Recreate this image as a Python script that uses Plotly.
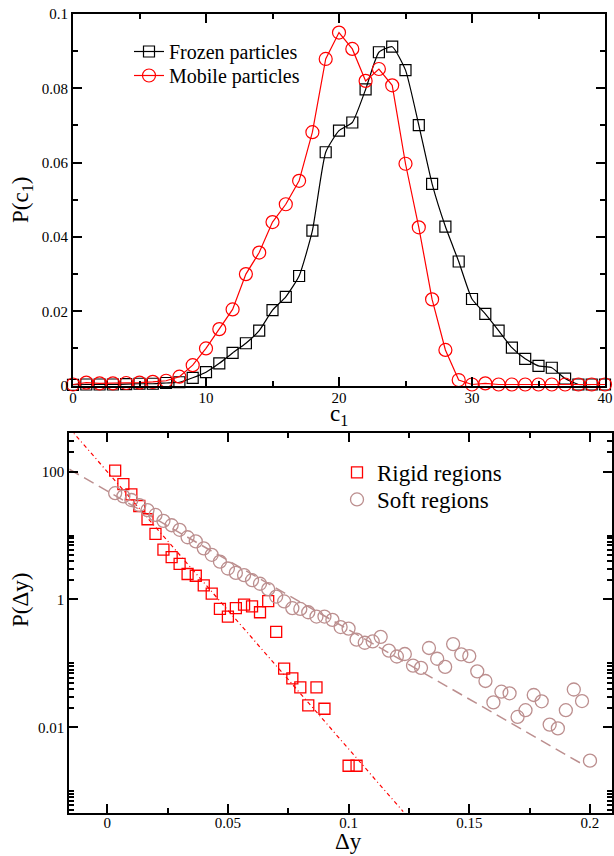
import plotly.graph_objects as go

# ---------------- top panel data ----------------
c1 = list(range(41))
frozen = [0.0002, 0.0003, 0.0003, 0.0003, 0.0004, 0.0005, 0.0005, 0.0007, 0.0009, 0.0021,
          0.0036, 0.0060, 0.0088, 0.0114, 0.0148, 0.0203, 0.0239, 0.0295, 0.0417, 0.0628,
          0.0686, 0.0708, 0.0797, 0.0897, 0.0912, 0.0849, 0.0701, 0.0543, 0.0428, 0.0334,
          0.0233, 0.0193, 0.0148, 0.0102, 0.0072, 0.0053, 0.0048, 0.0019, 0.0003, 0.0003,
          0.0003]
mobile = [0.0003, 0.0008, 0.0006, 0.0006, 0.0007, 0.0008, 0.0010, 0.0013, 0.0024, 0.0055,
          0.0100, 0.0152, 0.0205, 0.0300, 0.0358, 0.0440, 0.0488, 0.0551, 0.0682, 0.0879,
          0.0950, 0.0906, 0.0820, 0.0852, 0.0808, 0.0597, 0.0426, 0.0232, 0.0096, 0.0015,
          0.0003, 0.0006, 0.0003, 0.0003, 0.0003, 0.0003, 0.0003, 0.0003, 0.0003, 0.0003,
          0.0003]

# ---------------- bottom panel data ----------------
dy_rigid = [0.0033, 0.0067, 0.0100, 0.0133, 0.0167, 0.0200, 0.0233, 0.0267, 0.0300, 0.0333,
            0.0367, 0.0400, 0.0433, 0.0467, 0.0500, 0.0533, 0.0567, 0.0600, 0.0633, 0.0667,
            0.0700, 0.0733, 0.0767, 0.0800, 0.0833, 0.0867, 0.0900, 0.1000, 0.1033]
p_rigid = [104, 64, 44, 29, 18, 10.6, 6.0, 4.6, 3.6, 2.5,
           2.35, 1.66, 1.23, 0.71, 0.54, 0.73, 0.83, 0.78, 0.63, 0.94,
           0.31, 0.083, 0.058, 0.042, 0.022, 0.042, 0.0195, 0.0025, 0.0025]

dy_soft = [0.0033, 0.0067, 0.0100, 0.0133, 0.0167, 0.0200, 0.0233, 0.0267, 0.0300, 0.0333,
           0.0367, 0.0400, 0.0433, 0.0467, 0.0500, 0.0533, 0.0567, 0.0600, 0.0633, 0.0667,
           0.0700, 0.0733, 0.0767, 0.0800, 0.0833, 0.0867, 0.0900, 0.0933, 0.0967, 0.1000,
           0.1033, 0.1067, 0.1100, 0.1133, 0.1167, 0.1200, 0.1233, 0.1267, 0.1300, 0.1333,
           0.1367, 0.1400, 0.1433, 0.1467, 0.1500, 0.1533, 0.1567, 0.1600, 0.1633, 0.1667,
           0.1700, 0.1733, 0.1767, 0.1800, 0.1833, 0.1867, 0.1900, 0.1933, 0.1967, 0.2000]
p_soft = [46, 41, 36, 30, 25, 21, 17, 14.5, 12.3, 9.4,
          8.1, 6.3, 5.0, 3.9, 3.05, 2.6, 2.4, 2.0, 1.76, 1.45,
          1.11, 0.93, 0.73, 0.71, 0.63, 0.54, 0.54, 0.48, 0.37, 0.35,
          0.235, 0.21, 0.22, 0.26, 0.158, 0.128, 0.14, 0.092, 0.085, 0.174,
          0.118, 0.088, 0.20, 0.138, 0.13, 0.075, 0.053, 0.0245, 0.036, 0.034,
          0.0145, 0.0185, 0.032, 0.0255, 0.011, 0.0096, 0.0185, 0.039, 0.0257, 0.003]

# fitted exponential lines (end points)
rigid_fit_x = [-0.0157, 0.1226]
rigid_fit_y = [481, 0.00048]
soft_fit_x = [-0.0157, 0.1972]
soft_fit_y = [109, 0.0026]

top_xticks = [0, 10, 20, 30, 40]
top_yticks = [0, 0.02, 0.04, 0.06, 0.08, 0.1]
top_yticklabels = ["0", "0.02", "0.04", "0.06", "0.08", "0.1"]
bot_xticks = [0, 0.05, 0.1, 0.15, 0.2]
bot_xticklabels = ["0", "0.05", "0.1", "0.15", "0.2"]
bot_yticks = [0.01, 1, 100]
bot_yticklabels = ["0.01", "1", "100"]
bot_yminor = [k * 10.0 ** m for m in (-4, -2, 0, 2) for k in range(2, 11)]

SERIF = "Liberation Serif, Times New Roman, Times, DejaVu Serif, serif"
RED = "#ff0000"
BROWN = "#bc8f8f"

fig = go.Figure()

fig.add_trace(go.Scatter(
    x=c1, y=frozen, mode="lines+markers", name="Frozen particles",
    line=dict(color="black", width=1.2, shape="spline", smoothing=0.5),
    marker=dict(symbol="square-open", size=11, color="black", line=dict(width=1.2)),
    cliponaxis=False, xaxis="x", yaxis="y", legend="legend"))
fig.add_trace(go.Scatter(
    x=c1, y=mobile, mode="lines+markers", name="Mobile particles",
    line=dict(color=RED, width=1.2),
    marker=dict(symbol="circle-open", size=13, color=RED, line=dict(width=1.2)),
    cliponaxis=False, xaxis="x", yaxis="y", legend="legend2"))

fig.add_trace(go.Scatter(
    x=rigid_fit_x, y=rigid_fit_y, mode="lines", showlegend=False,
    line=dict(color=RED, width=1.2, dash="4px,3px,1px,3px"),
    xaxis="x2", yaxis="y2"))
fig.add_trace(go.Scatter(
    x=soft_fit_x, y=soft_fit_y, mode="lines", showlegend=False,
    line=dict(color=BROWN, width=1.5, dash="11px,6px"),
    xaxis="x2", yaxis="y2"))
fig.add_trace(go.Scatter(
    x=dy_rigid, y=p_rigid, mode="markers", name="Rigid regions",
    marker=dict(symbol="square-open", size=11, color=RED, line=dict(width=1.3)),
    xaxis="x2", yaxis="y2", legend="legend3"))
fig.add_trace(go.Scatter(
    x=dy_soft, y=p_soft, mode="markers", name="Soft regions",
    marker=dict(symbol="circle-open", size=13, color=BROWN, line=dict(width=1.3)),
    xaxis="x2", yaxis="y2", legend="legend4"))

W, H = 614, 856
axis_common = dict(showline=True, linecolor="black", linewidth=2, mirror="ticks",
                   ticks="inside", ticklen=9, tickwidth=1.5, tickcolor="black",
                   showgrid=False, zeroline=False, automargin=False,
                   tickfont=dict(family=SERIF, size=15, color="black"))

ann_font = dict(family=SERIF, size=23, color="black")


def leg(x_px, y_px, size):
    return dict(x=x_px / W, y=1 - y_px / H, xanchor="left", yanchor="top",
                bgcolor="rgba(0,0,0,0)", font=dict(family=SERIF, size=size, color="black"))


fig.update_layout(
    template="none",
    width=W, height=H, margin=dict(l=0, r=0, t=0, b=0, autoexpand=False),
    paper_bgcolor="white", plot_bgcolor="white",
    font=dict(family=SERIF, color="black"),
    xaxis=dict(domain=[73 / W, 605 / W], range=[0, 40], anchor="y",
               tickvals=top_xticks, ticklabelstandoff=-3,
               minor=dict(dtick=5, ticks="inside", ticklen=5, tickwidth=1.5, tickcolor="black"),
               **axis_common),
    yaxis=dict(domain=[1 - 385.6 / H, 1 - 14 / H], range=[0, 0.1], anchor="x",
               tickvals=top_yticks, ticktext=top_yticklabels,
               minor=dict(dtick=0.01, ticks="inside", ticklen=5, tickwidth=1.5, tickcolor="black"),
               **axis_common),
    xaxis2=dict(domain=[69.3 / W, 611.7 / W], range=[-0.0157, 0.209], anchor="y2",
                tickvals=bot_xticks, ticktext=bot_xticklabels, ticklabelstandoff=-5,
                minor=dict(dtick=0.025, tick0=0, ticks="inside", ticklen=5, tickwidth=1.5, tickcolor="black"),
                **axis_common),
    yaxis2=dict(domain=[1 - 812.7 / H, 1 - 433.3 / H], type="log", range=[-3.337, 2.6],
                anchor="x2", tickvals=bot_yticks, ticktext=bot_yticklabels,
                minor=dict(tickmode="array", tickvals=bot_yminor, ticks="inside",
                           ticklen=5, tickwidth=1.5, tickcolor="black"),
                **axis_common),
    legend=leg(129, 32, 20),
    legend2=leg(129, 56, 20),
    legend3=leg(337, 451, 23),
    legend4=leg(337, 478, 23),
    annotations=[
        dict(text="P(c<sub>1</sub>)", x=22 / W, y=1 - 200 / H, xref="paper", yref="paper",
             xanchor="center", yanchor="middle",
             textangle=-90, showarrow=False, font=ann_font),
        dict(text="c<sub>1</sub>", x=339 / W, y=1 - 415 / H, xref="paper", yref="paper",
             xanchor="center", yanchor="middle", showarrow=False, font=ann_font),
        dict(text="P(Δy)", x=20 / W, y=1 - 600 / H, xref="paper", yref="paper",
             xanchor="center", yanchor="middle",
             textangle=-90, showarrow=False, font=ann_font),
        dict(text="Δy", x=348 / W, y=1 - 841 / H, xref="paper", yref="paper",
             xanchor="center", yanchor="middle", showarrow=False, font=ann_font),
    ],
)

fig.write_html("out.html")
